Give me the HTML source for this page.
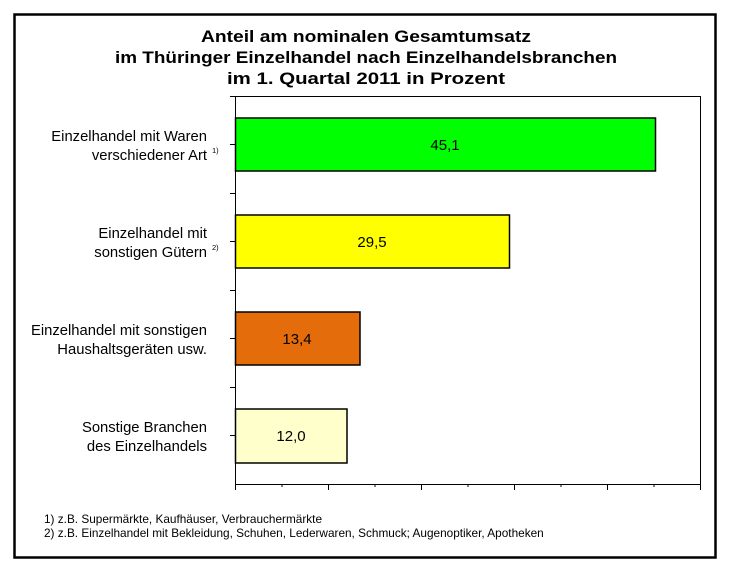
<!DOCTYPE html>
<html><head><meta charset="utf-8"><style>
body{margin:0;background:#fff;}
svg text{font-family:"Liberation Sans",Arial,sans-serif;}
</style></head><body>
<svg width="733" height="571" xmlns="http://www.w3.org/2000/svg">
<rect x="0" y="0" width="733" height="571" fill="#fff"/>
<rect x="14.5" y="14.5" width="701" height="543" fill="none" stroke="#000" stroke-width="2.5"/>
<g font-weight="bold" font-size="17" text-anchor="middle" fill="#000">
<text x="366" y="42" textLength="330" lengthAdjust="spacingAndGlyphs">Anteil am nominalen Gesamtumsatz</text>
<text x="366" y="63" textLength="502" lengthAdjust="spacingAndGlyphs">im Thüringer Einzelhandel nach Einzelhandelsbranchen</text>
<text x="366" y="84" textLength="278" lengthAdjust="spacingAndGlyphs">im 1. Quartal 2011 in Prozent</text>
</g>
<rect x="235.5" y="96.5" width="465" height="388" fill="#fff" stroke="#000" stroke-width="1"/>
<g stroke="#000" stroke-width="1">
<line x1="230" y1="96.5" x2="235" y2="96.5"/>
<line x1="230" y1="193.5" x2="235" y2="193.5"/>
<line x1="230" y1="290.5" x2="235" y2="290.5"/>
<line x1="230" y1="387.5" x2="235" y2="387.5"/>
<line x1="230" y1="144.5" x2="235" y2="144.5"/>
<line x1="230" y1="241.5" x2="235" y2="241.5"/>
<line x1="230" y1="338.5" x2="235" y2="338.5"/>
<line x1="230" y1="435.5" x2="235" y2="435.5"/>
<line x1="235.5" y1="484" x2="235.5" y2="490"/>
<line x1="328.5" y1="484" x2="328.5" y2="490"/>
<line x1="421.5" y1="484" x2="421.5" y2="490"/>
<line x1="514.5" y1="484" x2="514.5" y2="490"/>
<line x1="607.5" y1="484" x2="607.5" y2="490"/>
<line x1="700.5" y1="484" x2="700.5" y2="490"/>
<line x1="282" y1="484" x2="282" y2="487"/>
<line x1="375" y1="484" x2="375" y2="487"/>
<line x1="468" y1="484" x2="468" y2="487"/>
<line x1="561" y1="484" x2="561" y2="487"/>
<line x1="654" y1="484" x2="654" y2="487"/>
</g>
<g stroke="#000" stroke-width="1.5">
<rect x="235.5" y="118" width="420" height="53" fill="#00ff00"/>
<rect x="235.5" y="215" width="274" height="53" fill="#ffff00"/>
<rect x="235.5" y="312" width="124.5" height="53" fill="#e46c0a"/>
<rect x="235.5" y="409" width="111.5" height="54" fill="#ffffcc"/>
</g>
<g font-size="15" text-anchor="middle" fill="#000">
<text x="445" y="150">45,1</text>
<text x="372" y="247">29,5</text>
<text x="297" y="344">13,4</text>
<text x="291" y="441">12,0</text>
</g>
<g font-size="14.8" text-anchor="end" fill="#000">
<text x="207" y="141">Einzelhandel mit Waren</text>
<text x="207" y="160">verschiedener Art</text>
<text x="207" y="238">Einzelhandel mit</text>
<text x="207" y="257">sonstigen Gütern</text>
<text x="207" y="335">Einzelhandel mit sonstigen</text>
<text x="207" y="354">Haushaltsgeräten usw.</text>
<text x="207" y="432">Sonstige Branchen</text>
<text x="207" y="451">des Einzelhandels</text>
</g>
<g font-size="7.5" fill="#000">
<text x="212" y="153">1)</text>
<text x="212" y="250">2)</text>
</g>
<g font-size="11.8" fill="#000">
<text x="44" y="523">1) z.B. Supermärkte, Kaufhäuser, Verbrauchermärkte</text>
<text x="44" y="537">2) z.B. Einzelhandel mit Bekleidung, Schuhen, Lederwaren, Schmuck; Augenoptiker, Apotheken</text>
</g>
</svg>
</body></html>
